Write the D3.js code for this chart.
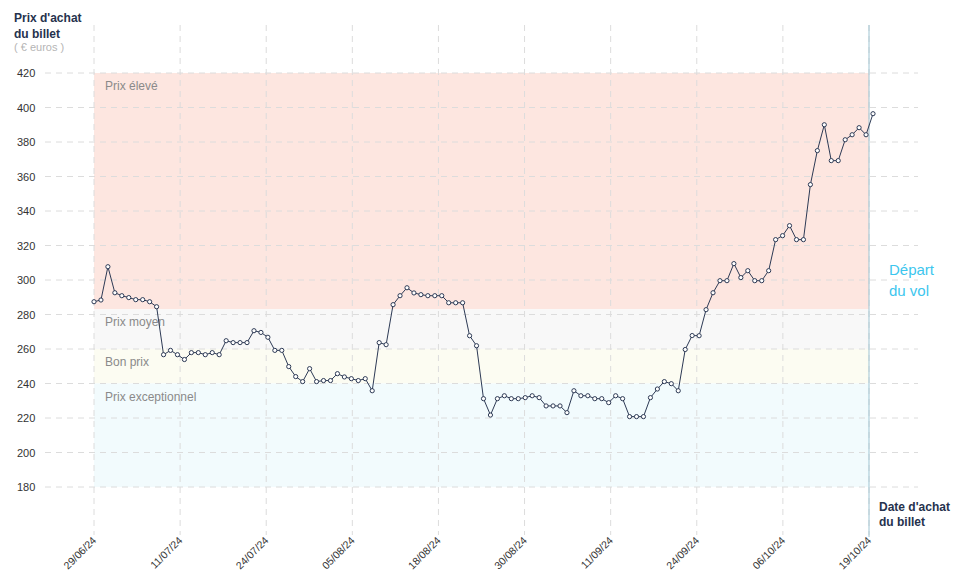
<!DOCTYPE html>
<html>
<head>
<meta charset="utf-8">
<script src="https://cdn.jsdelivr.net/npm/d3@7"></script>
<style>
  body { margin: 0; background: #fff; }
  text { font-family: "Liberation Sans", Arial, sans-serif; }
</style>
</head>
<body>
<svg id="chart" width="958" height="585"></svg>
<script>
var prices = [
  287.4, 288.4, 307.7, 292.6, 290.9, 289.8, 288.6, 288.6, 287.4, 284.5,
  256.7, 259.2, 256.7, 253.9, 257.9, 257.9, 256.7, 257.9, 256.7, 264.8,
  263.7, 263.7, 263.7, 270.6, 269.6, 266.8, 259.2, 259.2, 249.8, 244.0,
  241.1, 248.6, 241.1, 241.7, 241.7, 245.7, 243.8, 242.8, 241.7, 242.8,
  235.8, 263.7, 262.5, 285.7, 290.9, 295.5, 292.5, 291.5, 290.9, 290.9,
  290.9, 286.8, 286.8, 286.8, 267.7, 261.9, 231.2, 221.7, 231.2, 232.9,
  231.2, 231.2, 231.8, 232.9, 231.8, 227.0, 227.0, 227.0, 223.1, 235.8,
  232.9, 232.9, 231.2, 231.2, 228.9, 232.9, 231.2, 220.8, 220.8, 220.8,
  231.8, 236.8, 241.1, 239.9, 235.8, 259.7, 267.8, 267.7, 282.8, 292.6,
  299.6, 299.6, 309.5, 301.4, 305.4, 299.6, 299.6, 305.4, 323.4, 325.7,
  331.5, 323.4, 323.4, 355.3, 375.0, 390.0, 369.2, 369.2, 381.3, 384.2,
  388.3, 384.2, 396.4
];
var tickLabels = ["29/06/24", "11/07/24", "24/07/24", "05/08/24", "18/08/24",
  "30/08/24", "11/09/24", "24/09/24", "06/10/24", "19/10/24"];
var yTicks = [180, 200, 220, 240, 260, 280, 300, 320, 340, 360, 380, 400, 420];
var bands = [
  { name: "Prix élevé", from: 283, to: 420, color: "#fde6e0" },
  { name: "Prix moyen", from: 260, to: 283, color: "#f8f8f8" },
  { name: "Bon prix", from: 240, to: 260, color: "#fcfcf2" },
  { name: "Prix exceptionnel", from: 180, to: 240, color: "#f2fbfd" }
];

var svg = d3.select("#chart");
var x = d3.scaleLinear().domain([0, prices.length - 1]).range([94, 873]);
var xt = d3.scalePoint().domain(tickLabels).range([94, 869]);
var y = d3.scaleLinear().domain([180, 420]).range([487, 73]);

// bands
svg.append("g").selectAll("rect").data(bands).enter().append("rect")
  .attr("x", 94).attr("width", 869 - 94)
  .attr("y", function(d) { return y(d.to); })
  .attr("height", function(d) { return y(d.from) - y(d.to); })
  .attr("fill", function(d) { return d.color; });

// grid
svg.append("g").selectAll("line").data(yTicks).enter().append("line")
  .attr("x1", 45).attr("x2", 918)
  .attr("y1", function(d) { return y(d); }).attr("y2", function(d) { return y(d); })
  .attr("stroke", "#dcdcdc").attr("stroke-dasharray", "6,5");
svg.append("g").selectAll("line").data(tickLabels).enter().append("line")
  .attr("x1", function(d) { return xt(d); }).attr("x2", function(d) { return xt(d); })
  .attr("y1", 25).attr("y2", 535)
  .attr("stroke", "#dcdcdc").attr("stroke-dasharray", "6,5");

svg.append("g").selectAll("text").data(bands).enter().append("text")
  .attr("x", 105).attr("y", function(d) { return y(d.to) + 17; })
  .attr("font-size", 12).attr("fill", "#8a8a8a")
  .text(function(d) { return d.name; });

// y labels
svg.append("g").selectAll("text").data(yTicks).enter().append("text")
  .attr("x", 17).attr("y", function(d) { return y(d) + 4; })
  .attr("font-size", 11).attr("fill", "#333")
  .text(function(d) { return d; });

// x labels
svg.append("g").selectAll("text").data(tickLabels).enter().append("text")
  .attr("transform", function(d) { return "translate(" + (xt(d) + 3) + ",541) rotate(-45)"; })
  .attr("text-anchor", "end").attr("font-size", 10.5).attr("fill", "#333")
  .text(function(d) { return d; });

// departure line
svg.append("line").attr("x1", 869).attr("x2", 869).attr("y1", 25).attr("y2", 537)
  .attr("stroke", "#9fc4d2").attr("stroke-width", 1);
svg.append("text").attr("x", 889).attr("y", 275).attr("font-size", 15).attr("fill", "#3cc6ee").text("Départ");
svg.append("text").attr("x", 889).attr("y", 296).attr("font-size", 15).attr("fill", "#3cc6ee").text("du vol");

// titles
var title = svg.append("g").attr("font-weight", "bold").attr("font-size", 12).attr("fill", "#26324d");
title.append("text").attr("x", 14).attr("y", 22).text("Prix d'achat");
title.append("text").attr("x", 14).attr("y", 38).text("du billet");
svg.append("text").attr("x", 14).attr("y", 51).attr("font-size", 11).attr("fill", "#b5b5b5").text("( € euros )");
title.append("text").attr("x", 879).attr("y", 511).text("Date d'achat");
title.append("text").attr("x", 879).attr("y", 526).text("du billet");

// line + points
svg.append("path").datum(prices)
  .attr("d", d3.line().x(function(d, i) { return x(i); }).y(function(d) { return y(d); }))
  .attr("fill", "none").attr("stroke", "#2d3a55").attr("stroke-width", 1);
svg.append("g").selectAll("circle").data(prices).enter().append("circle")
  .attr("cx", function(d, i) { return x(i); }).attr("cy", function(d) { return y(d); })
  .attr("r", 2.1).attr("fill", "#fff").attr("stroke", "#2d3a55").attr("stroke-width", 1);
</script>
</body>
</html>
